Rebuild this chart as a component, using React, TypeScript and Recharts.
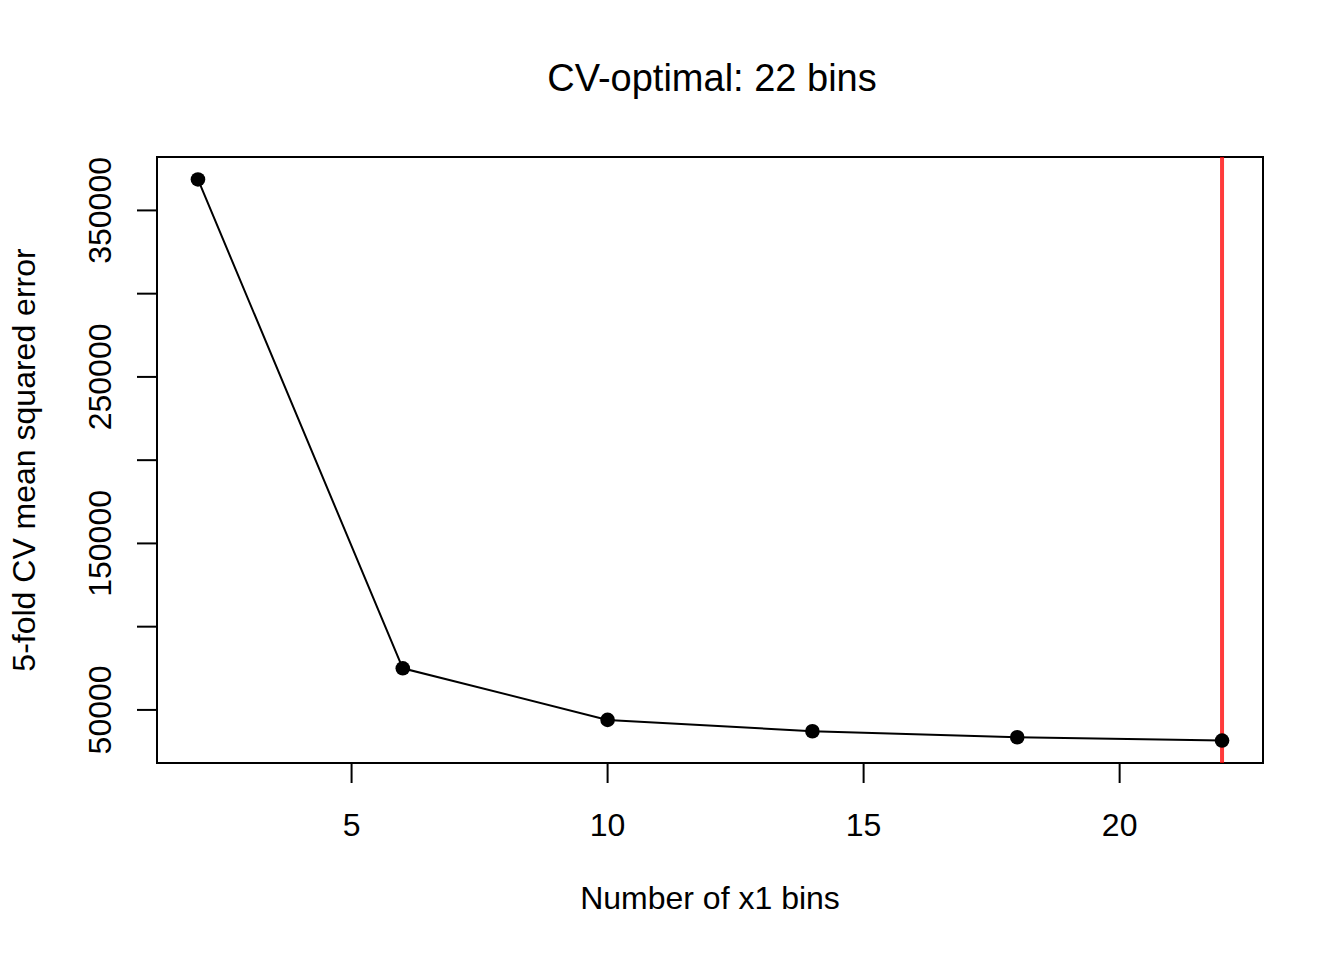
import React from 'react';
import { LineChart, Line, XAxis, YAxis, ReferenceLine, ReferenceArea } from 'recharts';

const binCounts = [2, 6, 10, 14, 18, 22];
const cvMse = [368600, 75000, 44000, 37200, 33600, 31600];
const xTicks = [5, 10, 15, 20];
const yTicks = [50000, 100000, 150000, 200000, 250000, 300000, 350000];
const yTickLabels = [50000, 150000, 250000, 350000];
const optimalBins = 22;
const titleText = 'CV-optimal: 22 bins';
const xLabel = 'Number of x1 bins';
const yLabel = '5-fold CV mean squared error';

const data = binCounts.map((b, i) => ({ bins: b, mse: cvMse[i] }));

// R-style 4% axis extension
const pad = (lo: number, hi: number): [number, number] => {
  const d = (hi - lo) * 0.04;
  return [lo - d, hi + d];
};
const xDomain = pad(Math.min(...binCounts), Math.max(...binCounts));
const yDomain = pad(Math.min(...cvMse), Math.max(...cvMse));

const FONT = '"Liberation Sans", Arial, Helvetica, sans-serif';
const FS = 32;
const W = 1344;
const H = 960;
const M = { top: 157, right: 81, left: 0, bottom: 0 };
const Y_AXIS_W = 157;
const X_AXIS_H = 197;
const TICK = 20;

const XTick = (props: any) => {
  const { x, y, payload } = props;
  return (
    <text x={x} y={y} dy={53} textAnchor="middle" fontFamily={FONT} fontSize={FS} fill="#000">
      {payload.value}
    </text>
  );
};

const YTick = (props: any) => {
  const { x, y, payload } = props;
  if (!yTickLabels.includes(payload.value)) return <g />;
  return (
    <text
      transform={`translate(${x - 26},${y}) rotate(-90)`}
      textAnchor="middle"
      fontFamily={FONT}
      fontSize={FS}
      fill="#000"
    >
      {payload.value}
    </text>
  );
};

const XLabel = (props: any) => {
  const vb = props.viewBox || {};
  return (
    <text x={vb.x + vb.width / 2} y={vb.y + 146} textAnchor="middle" fontFamily={FONT} fontSize={FS} fill="#000">
      {xLabel}
    </text>
  );
};

const YLabel = (props: any) => {
  const vb = props.viewBox || {};
  return (
    <text
      transform={`translate(${vb.x + 35},${vb.y + vb.height / 2}) rotate(-90)`}
      textAnchor="middle"
      fontFamily={FONT}
      fontSize={FS}
      fill="#000"
    >
      {yLabel}
    </text>
  );
};

const Dot = (props: any) => {
  const { cx, cy } = props;
  if (cx == null || cy == null) return <g />;
  return <circle cx={cx} cy={cy} r={7.3} fill="#000" stroke="none" />;
};

export default function App() {
  const plotCenterX = Y_AXIS_W + (W - Y_AXIS_W - M.right) / 2;
  return (
    <div style={{ position: 'absolute', left: 0, top: 0, width: W, height: H, background: '#fff' }}>
      <LineChart width={W} height={H} data={data} margin={M}>
        <XAxis
          dataKey="bins"
          type="number"
          domain={xDomain}
          ticks={xTicks}
          allowDataOverflow
          axisLine={false}
          tickSize={TICK}
          tickMargin={0}
          tickLine={{ stroke: '#000', strokeWidth: 2 }}
          tick={<XTick />}
          height={X_AXIS_H}
          label={<XLabel />}
        />
        <YAxis
          dataKey="mse"
          type="number"
          domain={yDomain}
          ticks={yTicks}
          allowDataOverflow
          axisLine={false}
          tickSize={TICK}
          tickMargin={0}
          tickLine={{ stroke: '#000', strokeWidth: 2 }}
          tick={<YTick />}
          width={Y_AXIS_W}
          interval={0}
          label={<YLabel />}
        />
        <ReferenceArea
          x1={xDomain[0]}
          x2={xDomain[1]}
          y1={yDomain[0]}
          y2={yDomain[1]}
          fill="none"
          stroke="#000"
          strokeWidth={2}
          ifOverflow="visible"
        />
        <Line
          dataKey="mse"
          stroke="#000"
          strokeWidth={2}
          isAnimationActive={false}
          dot={<Dot />}
          activeDot={false}
        />
        <ReferenceLine x={optimalBins} stroke="rgb(255,0,0)" strokeOpacity={0.77} strokeWidth={4} />
      </LineChart>
      <svg width={W} height={H} style={{ position: 'absolute', left: 0, top: 0, pointerEvents: 'none' }}>
        <text x={plotCenterX + 2} y={91} textAnchor="middle" fontFamily={FONT} fontSize={38} fill="#000">
          {titleText}
        </text>
      </svg>
    </div>
  );
}
